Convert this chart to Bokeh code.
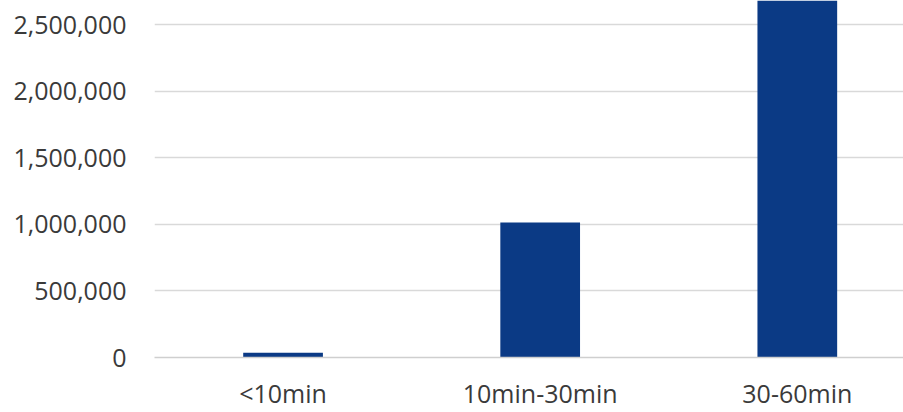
from bokeh.plotting import figure
from bokeh.models import Range1d, FixedTicker, NumeralTickFormatter, ColumnDataSource
from bokeh.embed import file_html
from bokeh.resources import INLINE

categories = ["<10min", "10min-30min", "30-60min"]
values = [35000, 1015000, 2800000]
y_ticks = [0, 500000, 1000000, 1500000, 2000000, 2500000]

positions = list(range(len(categories)))
src = ColumnDataSource(dict(x=positions, top=values, name=categories))

p = figure(width=903, height=412, output_backend="svg", toolbar_location=None,
           x_range=Range1d(-0.5, 2.413), y_range=Range1d(0, 2683000),
           min_border_left=154, min_border_right=0, min_border_top=0, min_border_bottom=52)
p.outline_line_color = None
p.background_fill_color = "white"
p.border_fill_color = "white"

p.vbar(x="x", top="top", width=0.31, source=src, color="#0B3A85", line_color=None)

font = "Open Sans"
p.yaxis.ticker = FixedTicker(ticks=y_ticks)
p.yaxis.formatter = NumeralTickFormatter(format="0,0")
p.yaxis.axis_line_color = None
p.yaxis.major_tick_line_color = None
p.yaxis.minor_tick_line_color = None
p.yaxis.major_tick_out = 0
p.yaxis.major_label_standoff = 28
p.yaxis.major_label_text_font = font
p.yaxis.major_label_text_font_size = "25px"
p.yaxis.major_label_text_color = "#3a3a3a"

p.xaxis.ticker = FixedTicker(ticks=positions)
p.xaxis.major_label_overrides = {i: c for i, c in enumerate(categories)}
p.xaxis.axis_line_color = "#cfcfcf"
p.xaxis.axis_line_width = 1.5
p.xaxis.major_tick_line_color = None
p.xaxis.minor_tick_line_color = None
p.xaxis.major_tick_out = 0
p.xaxis.major_label_standoff = 18
p.xaxis.major_label_text_font = font
p.xaxis.major_label_text_font_size = "25px"
p.xaxis.major_label_text_color = "#3a3a3a"

p.xgrid.grid_line_color = None
p.ygrid.grid_line_color = "#d9d9d9"
p.ygrid.grid_line_width = 1.5

open("out.html", "w").write(file_html(p, INLINE))
